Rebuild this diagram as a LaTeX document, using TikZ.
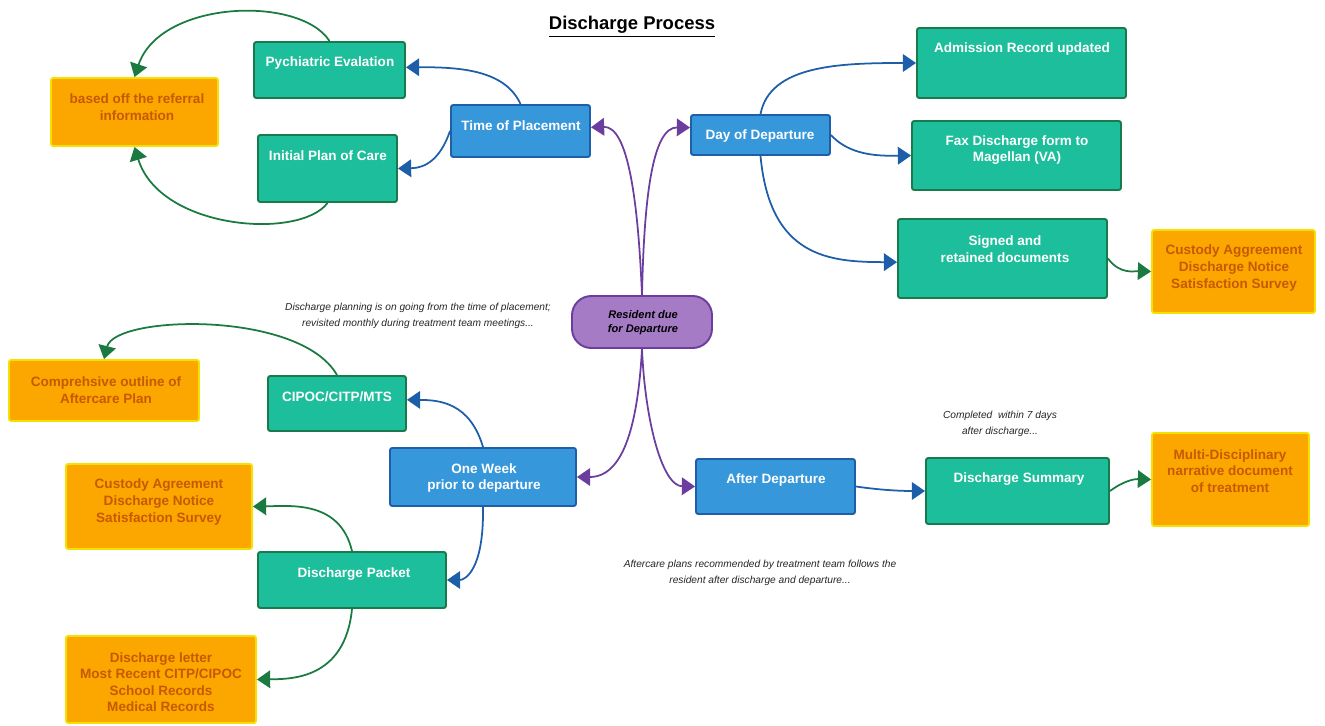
\documentclass[tikz,border=0pt]{standalone}
\usepackage{fontspec}
\setmainfont{Liberation Sans}
\usetikzlibrary{arrows.meta}

\definecolor{tealfill}{HTML}{1DBE9B}
\definecolor{tealline}{HTML}{1B7A4C}
\definecolor{bluefill}{HTML}{3797DB}
\definecolor{blueline}{HTML}{1F5FA8}
\definecolor{orangefill}{HTML}{FCA600}
\definecolor{orangeline}{HTML}{F2E200}
\definecolor{orangetext}{HTML}{C65A00}
\definecolor{purplefill}{HTML}{A57BC6}
\definecolor{purpleline}{HTML}{6B3D9E}
\definecolor{greenarrow}{HTML}{1A7A40}
\definecolor{bluearrow}{HTML}{1D5EA8}

% box drawn from its pixel corners: style, name, x1, y1, x2, y2
\newcommand\bx[6]{\node[#1, minimum width={(#5-#3)*0.02cm}, minimum height={(#6-#4)*0.02cm}] (#2) at ({(#3+#5)/2},{(#4+#6)/2}) {};}

\tikzset{
  boxbase/.style={rectangle, inner sep=0pt, line width=1.1pt, rounded corners=1.3pt},
  tealbox/.style={boxbase, fill=tealfill, draw=tealline},
  bluebox/.style={boxbase, fill=bluefill, draw=blueline},
  orangebox/.style={boxbase, fill=orangefill, draw=orangeline},
  hubbox/.style={boxbase, fill=purplefill, draw=purpleline, rounded corners=11pt},
  whitelbl/.style={inner sep=0pt, align=center, text=white, font=\fontsize{7.7}{9.4}\selectfont\bfseries},
  orangelbl/.style={inner sep=0pt, align=center, text=orangetext, font=\fontsize{7.7}{9.4}\selectfont\bfseries},
  hublbl/.style={inner sep=0pt, align=center, text=black, font=\fontsize{6.3}{8}\selectfont\bfseries\itshape},
  notelbl/.style={inner sep=0pt, align=center, text=black!85, font=\fontsize{5.8}{9}\selectfont\itshape},
  link/.style={line width=1pt, -{Triangle[length=7.5pt,width=10pt]}},
  purplelink/.style={link, draw=purpleline},
  bluelink/.style={link, draw=bluearrow},
  greenlink/.style={link, draw=greenarrow},
}

\begin{document}
\begin{tikzpicture}[x=0.02cm, y=-0.02cm]
\useasboundingbox (0,0) rectangle (1325,726);

% title
\node[inner sep=0pt, font=\fontsize{10.5}{12}\selectfont\bfseries] (title) at (632,27) {\underline{Discharge Process}};

% boxes
\bx{hubbox}{res}{572}{296}{712}{348}
\bx{bluebox}{top}{451}{105}{590}{157}
\bx{bluebox}{dod}{691}{115}{830}{155}
\bx{bluebox}{one}{390}{448}{576}{506}
\bx{bluebox}{ad}{696}{459}{855}{514}
\bx{tealbox}{pe}{254}{42}{405}{98}
\bx{tealbox}{ipc}{258}{135}{397}{202}
\bx{tealbox}{arc}{917}{28}{1126}{98}
\bx{tealbox}{fax}{912}{121}{1121}{190}
\bx{tealbox}{sig}{898}{219}{1107}{298}
\bx{tealbox}{cip}{268}{376}{406}{431}
\bx{tealbox}{dp}{258}{552}{446}{608}
\bx{tealbox}{ds}{926}{458}{1109}{524}
\bx{orangebox}{ref}{51}{78}{218}{146}
\bx{orangebox}{cusr}{1152}{230}{1315}{313}
\bx{orangebox}{com}{9}{360}{199}{421}
\bx{orangebox}{cusl}{66}{464}{252}{549}
\bx{orangebox}{dl}{66}{636}{256}{723}
\bx{orangebox}{md}{1152}{433}{1309}{526}

% box texts
\node[hublbl] (resT) at (643,323) {Resident due\\for Departure};
\node[whitelbl] (topT) at (521,126) {Time of Placement};
\node[whitelbl] (dodT) at (760,136) {Day of Departure};
\node[whitelbl] (oneT) at (484,478) {One Week\\prior to departure};
\node[whitelbl] (adT) at (776,480) {After Departure};
\node[whitelbl] (peT) at (330,63) {Pychiatric Evalation};
\node[whitelbl] (ipcT) at (328,156) {Initial Plan of Care};
\node[whitelbl] (arcT) at (1022,49) {Admission Record updated};
\node[whitelbl] (faxT) at (1017,150) {Fax Discharge form to\\Magellan (VA)};
\node[whitelbl] (sigT) at (1005,249) {Signed and\\retained documents};
\node[whitelbl] (cipT) at (337,397) {CIPOC/CITP/MTS};
\node[whitelbl] (dpT) at (354,574) {Discharge Packet};
\node[whitelbl] (dsT) at (1019,479) {Discharge Summary};
\node[orangelbl] (refT) at (137,107) {based off the referral\\information};
\node[orangelbl] (cusrT) at (1234,268) {Custody Aggreement\\Discharge Notice\\Satisfaction Survey};
\node[orangelbl] (comT) at (106,390) {Comprehsive outline of\\Aftercare Plan};
\node[orangelbl] (cuslT) at (159,502) {Custody Agreement\\Discharge Notice\\Satisfaction Survey};
\node[orangelbl] (dlT) at (161,682) {Discharge letter\\Most Recent CITP/CIPOC\\School Records\\Medical Records};
\node[orangelbl] (mdT) at (1230,471) {Multi-Disciplinary\\narrative document\\of treatment};

% notes
\node[notelbl] (note1) at (418,316) {Discharge planning is on going from the time of placement;\\revisited monthly during treatment team meetings...};
\node[notelbl] (note2) at (1000,424) {Completed\ \ within 7 days\\after discharge...};
\node[notelbl] (note3) at (760,573) {Aftercare plans recommended by treatment team follows the\\resident after discharge and departure...};

% hub connectors
\draw[purplelink] (res.north) .. controls (638,200) and (628,126) .. (top.3);
\draw[purplelink] (res.north) .. controls (644,200) and (652,127) .. (dod.174);
\draw[purplelink] (res.south) .. controls (638,420) and (625,477) .. (one.east);
\draw[purplelink] (res.south) .. controls (645,420) and (662,486) .. (ad.west);

% second-level connectors
\draw[bluelink] (top.north) .. controls (505,70) and (460,67) .. (pe.2);
\draw[bluelink] (top.west) .. controls (440,160) and (425,168) .. (ipc.east);
\draw[bluelink] (dod.north) .. controls (770,65) and (840,63) .. (arc.west);
\draw[bluelink] (dod.east) .. controls (850,156) and (880,156) .. (fax.west);
\draw[bluelink] (dod.south) .. controls (770,258) and (830,262) .. (sig.182);
\draw[bluelink] (one.north) .. controls (470,403) and (440,400) .. (cip.3);
\draw[bluelink] (one.south) .. controls (484,570) and (465,580) .. (dp.east);
\draw[bluelink] (ad.east) .. controls (880,490) and (900,491) .. (ds.west);

% third-level connectors
\draw[greenlink] (pe.north) .. controls (300,-5) and (160,0) .. (ref.north);
\draw[greenlink] (ipc.south) .. controls (300,240) and (160,230) .. (ref.south);
\draw[greenlink] (sig.east) .. controls (1120,275) and (1135,271) .. (cusr.west);
\draw[greenlink] (cip.north) .. controls (300,310) and (115,315) .. (com.north);
\draw[greenlink] (dp.north) .. controls (340,500) and (290,506) .. (cusl.east);
\draw[greenlink] (dp.south) .. controls (345,680) and (290,679) .. (dl.east);
\draw[greenlink] (ds.east) .. controls (1125,480) and (1135,479) .. (md.west);
\end{tikzpicture}
\end{document}
